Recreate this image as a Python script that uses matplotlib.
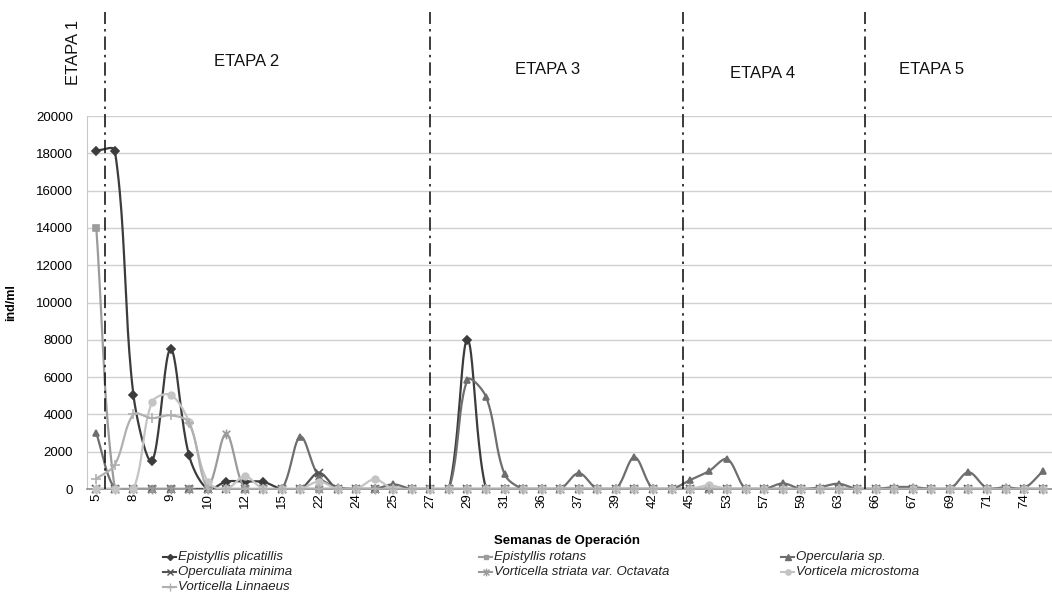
import numpy as np
import matplotlib
matplotlib.use("Agg")
import matplotlib.pyplot as plt
from matplotlib.lines import Line2D
from matplotlib.path import Path
from matplotlib.transforms import blended_transform_factory

plt.rcParams["font.family"] = ["Liberation Sans", "DejaVu Sans"]

# ---- data -------------------------------------------------------------
week_labels = ["5", "8", "9", "10", "12", "15", "22", "24", "25", "27", "29", "31",
               "36", "37", "39", "42", "45", "53", "57", "59", "63", "66", "67",
               "69", "71", "74"]
n_weeks = 52

series_names = ["Epistyllis plicatillis", "Epistyllis rotans", "Opercularia sp.",
                "Operculiata minima", "Vorticella striata var. Octavata",
                "Vorticela microstoma", "Vorticella Linnaeus"]

epistyllis_plicatillis = [18150, 18150, 5050, 1500, 7500, 1800, 0, 400, 400, 380,
                          0, 0, 0, 0, 0, 0, 0, 0, 0, 0,
                          8000, 0, 0, 0, 0, 0, 0, 0, 0, 0,
                          0, 0, 0, 0, 0, 0, 0, 0, 0, 0,
                          0, 0, 0, 0, 0, 0, 0, 0, 0, 0, 0, 0]
epistyllis_rotans = [14000] + [0] * 51
opercularia = [3000, 0, 0, 0, 0, 0, 0, 0, 0, 0,
               0, 2800, 650, 100, 0, 0, 250, 0, 0, 0,
               5850, 4950, 800, 0, 0, 0, 850, 0, 0, 1700,
               0, 0, 480, 950, 1600, 0, 0, 300, 0, 100,
               280, 0, 0, 100, 100, 0, 0, 900, 50, 100, 50, 950]
operculiata_minima = [0] * 12 + [870] + [0] * 39
vorticella_striata = [0] * 7 + [2950] + [0] * 44
vorticela_microstoma = [0, 0, 0, 4650, 5050, 3600, 400, 0, 680, 0,
                        0, 0, 400, 0, 0, 520, 0, 0, 0, 0,
                        0, 0, 0, 0, 0, 0, 0, 0, 0, 0,
                        0, 0, 0, 200, 0, 0, 0, 0, 0, 0,
                        0, 0, 0, 0, 0, 0, 0, 0, 0, 0, 0, 0]
vorticella_linnaeus = [550, 1300, 4000, 3800, 3950, 3550, 0] + [0] * 45

stage_names = ["ETAPA 1", "ETAPA 2", "ETAPA 3", "ETAPA 4", "ETAPA 5"]
stage_bounds = [0.45, 18, 31.6, 41.4]

# ---- styles -----------------------------------------------------------
star = Path([(-1, -1), (1, 1), (-1, 1), (1, -1), (0, -1.3), (0, 1.3)],
            [Path.MOVETO, Path.LINETO, Path.MOVETO, Path.LINETO, Path.MOVETO, Path.LINETO])

styles = [
    dict(color="#3c3c3c", marker="D", ms=3.8),
    dict(color="#9c9c9c", marker="s", ms=4.4),
    dict(color="#6e6e6e", marker="^", ms=5.0),
    dict(color="#555555", marker="x", ms=5.5),
    dict(color="#9a9a9a", marker=star, ms=7.0),
    dict(color="#c4c4c4", marker="o", ms=4.8),
    dict(color="#b0b0b0", marker="+", ms=7.5),
]
all_series = [epistyllis_plicatillis, epistyllis_rotans, opercularia,
              operculiata_minima, vorticella_striata, vorticela_microstoma,
              vorticella_linnaeus]

W, H = 1052, 615
AX_W, AX_H = 965, 373          # plot area size in pixels
YMAX = 20000
PX_PER_CAT = AX_W / n_weeks
PX_PER_UNIT = AX_H / YMAX


def smooth_curve(values, steps=24):
    """Bezier smoothing through every point; tangents scaled by the on-screen
    chord lengths so short flat steps next to tall drops barely overshoot."""
    v = np.asarray(values, float)
    pts = np.column_stack([np.arange(len(v)) * PX_PER_CAT, v * PX_PER_UNIT])
    n = len(pts)
    before = np.zeros_like(pts)
    after = np.zeros_like(pts)
    for i in range(n):
        prev_p = pts[i - 1] if i > 0 else pts[i]
        next_p = pts[i + 1] if i < n - 1 else pts[i]
        tang = next_p - prev_p
        d_prev = np.hypot(*(pts[i] - prev_p))
        d_next = np.hypot(*(next_p - pts[i]))
        tot = d_prev + d_next
        if tot == 0:
            continue
        before[i] = pts[i] - tang * (d_prev / tot) / 3.0
        after[i] = pts[i] + tang * (d_next / tot) / 3.0
    t = np.linspace(0, 1, steps)[:, None]
    out = []
    for i in range(n - 1):
        p1, c1, c2, p2 = pts[i], after[i], before[i + 1], pts[i + 1]
        seg = (1 - t) ** 3 * p1 + 3 * (1 - t) ** 2 * t * c1 + 3 * (1 - t) * t ** 2 * c2 + t ** 3 * p2
        out.append(seg if i == 0 else seg[1:])
    out = np.vstack(out)
    return out[:, 0] / PX_PER_CAT, out[:, 1] / PX_PER_UNIT


fig = plt.figure(figsize=(W / 100, H / 100), dpi=100)
ax = fig.add_axes([87 / W, (H - 489) / H, AX_W / W, AX_H / H])

x = np.arange(n_weeks)
for k, (vals, st) in enumerate(zip(all_series, styles)):
    cx, cy = smooth_curve(vals)
    ax.plot(cx, cy, color=st["color"], lw=1.6, zorder=3 + k, solid_capstyle="round")
    ax.plot(x, vals, linestyle="none", marker=st["marker"], ms=st["ms"],
            color=st["color"], mec=st["color"], mew=1.2, zorder=3 + k, clip_on=False)

ax.set_xlim(-0.5, n_weeks - 0.5)
ax.set_ylim(0, YMAX)
ax.set_yticks(np.arange(0, YMAX + 1, 2000))
ax.set_yticklabels([str(v) for v in range(0, YMAX + 1, 2000)], fontsize=9.5)
ax.set_xticks(np.arange(0, n_weeks, 2))
ax.set_xticklabels(week_labels, rotation=90, fontsize=9.5)
ax.tick_params(axis="y", length=0, pad=10)
ax.tick_params(axis="x", length=0, pad=3)
ax.grid(axis="y", color="#d0d0d0", lw=1.0)
ax.set_axisbelow(True)
for side in ("top", "right"):
    ax.spines[side].set_visible(False)
ax.spines["left"].set_color("#c8c8c8")
ax.spines["bottom"].set_color("#8c8c8c")
ax.spines["bottom"].set_linewidth(1.2)

ax.set_ylabel("ind/ml", fontsize=9, fontweight="bold")
ax.yaxis.set_label_coords(-70 / AX_W, 0.5)
ax.set_xlabel("Semanas de Operación", fontsize=9.5, fontweight="bold")
ax.xaxis.set_label_coords(480 / AX_W, -46 / AX_H)

# stage separators
trans = blended_transform_factory(ax.transData, ax.transAxes)
for b in stage_bounds:
    ax.add_line(Line2D([b, b], [0, (489 - 12) / AX_H], transform=trans, color="#1a1a1a",
                       lw=1.2, linestyle=(0, (8, 3, 1.5, 3)), clip_on=False, zorder=20))

# stage titles (pixel positions converted to figure fractions)
stage_pos = [(73, 52, 90), (247, 62, 0), (548, 70, 0), (763, 73, 0), (932, 70, 0)]
for name, (px, py, rot) in zip(stage_names, stage_pos):
    fig.text(px / W, 1 - py / H, name, fontsize=12, rotation=rot,
             ha="center", va="center", color="#111111")

# legend drawn row by row in three columns
leg_cols = [163, 479, 781]
leg_rows = [557, 572, 587]
for i, (name, st) in enumerate(zip(series_names, styles)):
    lx = leg_cols[i % 3]
    ly = 1 - leg_rows[i // 3] / H
    fig.add_artist(Line2D([lx / W, (lx + 6.5) / W, (lx + 13) / W], [ly] * 3,
                          transform=fig.transFigure, color=st["color"], lw=1.5,
                          marker=st["marker"], ms=st["ms"] * 0.8, markevery=[1],
                          mew=1.0))
    fig.text((lx + 15) / W, ly, name, fontsize=9.5, style="italic",
             ha="left", va="center", color="#222222")

fig.savefig("out.png", dpi=100)
